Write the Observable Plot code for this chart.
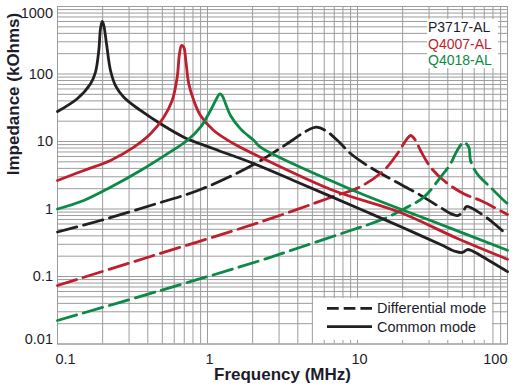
<!DOCTYPE html>
<html>
<head>
<meta charset="utf-8">
<script src="https://cdn.jsdelivr.net/npm/d3@7"></script>
<script src="https://cdn.jsdelivr.net/npm/@observablehq/plot@0.6"></script>
<style>
  html, body { margin: 0; padding: 0; background: #fff; }
  #wrap { position: relative; width: 516px; height: 392px; font-family: "Liberation Sans", Arial, Helvetica, sans-serif; }
  #legendParts { position: absolute; left: 427px; top: 19px; width: 71px; height: 49px; background: #fff; font-size: 14px; }
  #legendParts div { line-height: 16.5px; height: 16.5px; padding-left: 1px; white-space: nowrap; }
  #legendModes { position: absolute; left: 313px; top: 298px; width: 179px; height: 42px; background: #fff; }
</style>
</head>
<body>
<div id="wrap">
  <div id="chart"></div>
  <div id="legendParts"></div>
  <div id="legendModes"></div>
</div>
<script>
// ---- data: [frequency MHz, impedance kOhms] ----
const p3717Common = [[0.1,27.8],[0.1353,42.9],[0.166,71.6],[0.179,106],[0.1885,223],[0.1935,472],[0.1986,600],[0.2036,523],[0.2122,280],[0.2256,112.7],[0.2435,67.5],[0.2767,45.3],[0.3577,28.8],[0.486,18.3],[0.695,11.6],[1.10,7.8],[2.03,4.72],[4.17,2.39],[10.2,1.02],[19.3,0.55],[35.8,0.298],[45.0,0.235],[50.1,0.227],[54.1,0.251],[57.5,0.243],[66.1,0.205],[97,0.123],[100,0.118]];
const q4007Common = [[0.1,2.64],[0.1497,3.72],[0.2256,5.23],[0.3226,8.23],[0.417,13.0],[0.511,22.9],[0.5815,40.5],[0.628,89.7],[0.6505,199],[0.671,264],[0.695,249],[0.7168,158],[0.75,71.6],[0.81,40.5],[0.898,24.3],[1.10,14.55],[1.497,9.25],[2.256,5.85],[6.92,1.88],[19.3,0.887],[46.4,0.366],[97,0.185],[100,0.18]];
const q4018Common = [[0.1,1.0],[0.1497,1.336],[0.2256,2.10],[0.3577,3.72],[0.5385,6.57],[0.732,10.35],[0.898,16.3],[1.047,28.8],[1.148,42.9],[1.208,50.9],[1.253,48.0],[1.318,36.6],[1.423,24.3],[1.66,15.4],[2.04,10.35],[2.256,8.23],[9.40,1.88],[30.7,0.675],[97,0.251],[100,0.245]];
const p3717Diff = [[0.1,0.456],[0.1935,0.675],[0.417,1.127],[0.898,1.945],[2.03,4.56],[3.575,10],[4.50,14.07],[5.33,16.3],[6.12,14.55],[7.36,10.35],[8.98,6.64],[12.2,4.12],[17.4,2.64],[25.1,1.70],[35.8,1.05],[41.7,0.858],[46.4,0.80],[50.1,0.887],[53.3,1.089],[58.4,1.017],[77.0,0.675],[97,0.434],[100,0.41]];
const q4007Diff = [[0.1,0.0736],[0.417,0.198],[2.256,0.642],[6.61,1.48],[10.5,2.15],[14.97,3.72],[18.4,6.57],[21.4,10.96],[22.6,12.27],[24.4,10.35],[26.3,7.36],[30.7,4.16],[37.6,2.64],[51.1,1.68],[66.1,1.336],[97,0.858],[100,0.83]];
const q4018Diff = [[0.1,0.0223],[0.486,0.062],[2.256,0.1726],[4.17,0.2716],[8.98,0.48],[14.97,0.716],[21.4,1.063],[27.7,1.50],[35.8,2.96],[41.7,4.67],[46.2,7.36],[51.1,9.76],[55.2,8.23],[56.7,5.23],[62.8,3.32],[77.0,2.10],[94.5,1.336],[100,1.2]];

const partNames = ["P3717-AL", "Q4007-AL", "Q4018-AL"];
const partColors = ["#231f20", "#be1e2d", "#0a8a46"];
const modeNames = ["Differential mode", "Common mode"];

const xTickLabels = [0.1, 1, 10, 100];
const yTickLabels = [1000, 100, 10, 1, 0.1, 0.01];
const xDecades = [0.1, 1, 10];
const yDecades = [0.01, 0.1, 1, 10, 100];
const gridMultiples = [1, 2, 3, 4, 5, 6, 7, 8, 9];

const xGrid = xDecades.flatMap(d => gridMultiples.map(m => +(m * d).toPrecision(3))).concat([100]);
const yGrid = yDecades.flatMap(d => gridMultiples.map(m => +(m * d).toPrecision(3))).concat([1000]);

const FONT = '"Liberation Sans", Arial, Helvetica, sans-serif';
const TXT = "#1c1c2c";
const GRID = "#9c9c9c";

const lineOpts = (color, dashed) => ({
  x: d => d[0], y: d => d[1], stroke: color, strokeWidth: 2.8,
  curve: "catmull-rom", strokeDasharray: dashed ? "20,7" : null
});

const axisCommonX = {tickSize: 0, tickPadding: 10, fontSize: 14.5, tickFormat: d => String(d), label: null, color: TXT};
const axisCommonY = {tickSize: 0, tickPadding: 4.5, fontSize: 14.5, tickFormat: d => String(d), label: null, color: TXT};

const chart = Plot.plot({
  width: 516,
  height: 392,
  marginLeft: 57,
  marginRight: 9,
  marginTop: 6,
  marginBottom: 48.5,
  style: {fontFamily: FONT, background: "#fff", overflow: "visible"},
  x: {type: "log", domain: [0.1, 100], axis: null},
  y: {type: "log", domain: [0.01, 1000], axis: null},
  marks: [
    Plot.gridX(xGrid, {stroke: GRID, strokeOpacity: 1, strokeWidth: 1}),
    Plot.gridY(yGrid, {stroke: GRID, strokeOpacity: 1, strokeWidth: 1}),
    Plot.frame({stroke: GRID, strokeWidth: 1}),
    Plot.line(p3717Diff, lineOpts(partColors[0], true)),
    Plot.line(q4007Diff, lineOpts(partColors[1], true)),
    Plot.line(q4018Diff, lineOpts(partColors[2], true)),
    Plot.line(p3717Common, lineOpts(partColors[0], false)),
    Plot.line(q4007Common, lineOpts(partColors[1], false)),
    Plot.line(q4018Common, lineOpts(partColors[2], false)),
    Plot.axisX([xTickLabels[0]], {...axisCommonX, textAnchor: "start", dx: -2}),
    Plot.axisX(xTickLabels.slice(1, 3), {...axisCommonX, dx: 2}),
    Plot.axisX([xTickLabels[3]], {...axisCommonX, textAnchor: "end", dx: 0}),
    Plot.axisY([yTickLabels[0]], {...axisCommonY, dy: 7}),
    Plot.axisY(yTickLabels.slice(1, 5), {...axisCommonY}),
    Plot.axisY([yTickLabels[5]], {...axisCommonY, dy: -5}),
    Plot.text(["Frequency (MHz)"], {frameAnchor: "bottom", dy: 36, fontSize: 17, fontWeight: "bold", fill: TXT}),
    Plot.text(["Impedance (kOhms)"], {frameAnchor: "left", rotate: -90, dx: -43.5, fontSize: 17, fontWeight: "bold", fill: TXT})
  ]
});
document.getElementById("chart").appendChild(chart);

// legend of parts (top right)
const lp = document.getElementById("legendParts");
partNames.forEach((n, i) => {
  const d = document.createElement("div");
  d.textContent = n;
  d.style.color = i === 0 ? TXT : partColors[i];
  lp.appendChild(d);
});

// legend of modes (bottom right)
const svgNS = "http://www.w3.org/2000/svg";
const ls = document.createElementNS(svgNS, "svg");
ls.setAttribute("width", 179);
ls.setAttribute("height", 42);
modeNames.forEach((n, i) => {
  const yc = i === 0 ? 10.3 : 28.7;
  const ln = document.createElementNS(svgNS, "line");
  ln.setAttribute("x1", 14); ln.setAttribute("x2", 59);
  ln.setAttribute("y1", yc); ln.setAttribute("y2", yc);
  ln.setAttribute("stroke", partColors[0]);
  ln.setAttribute("stroke-width", 2.8);
  if (i === 0) ln.setAttribute("stroke-dasharray", "11.7,5");
  ls.appendChild(ln);
  const t = document.createElementNS(svgNS, "text");
  t.setAttribute("x", 64);
  t.setAttribute("y", yc + 5.1);
  t.setAttribute("font-size", 14.5);
  t.setAttribute("font-family", FONT);
  t.setAttribute("fill", TXT);
  t.textContent = n;
  ls.appendChild(t);
});
document.getElementById("legendModes").appendChild(ls);
</script>
</body>
</html>
